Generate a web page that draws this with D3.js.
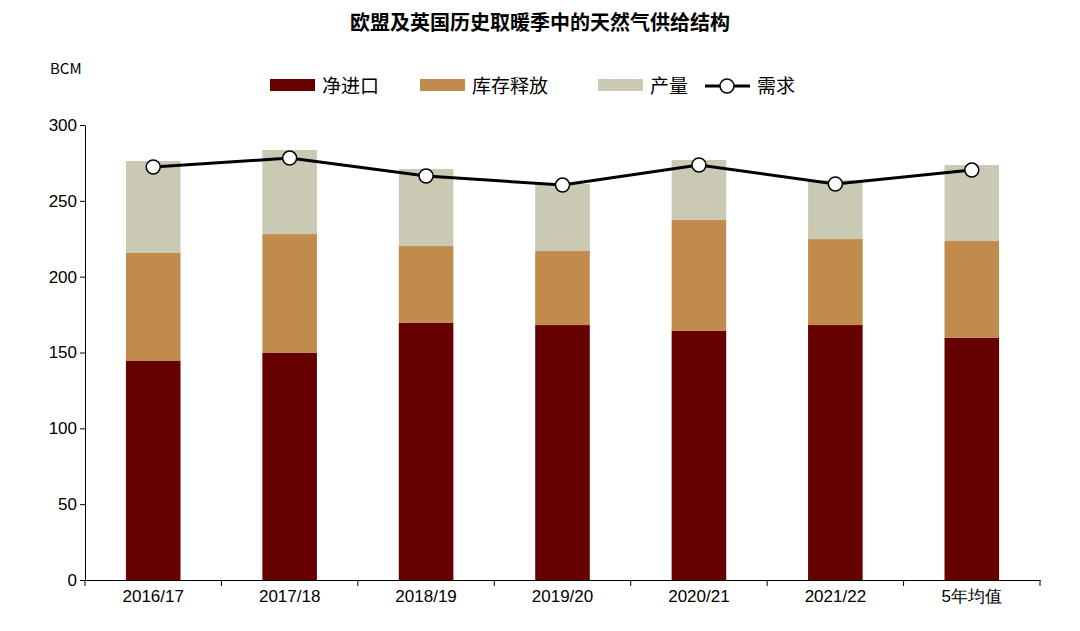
<!DOCTYPE html>
<html><head><meta charset="utf-8">
<script src="https://cdn.jsdelivr.net/npm/d3@7"></script>
<style>body{margin:0;background:#fff;font-family:"Noto Sans CJK SC","Liberation Sans",sans-serif}</style>
</head><body><svg id="c" width="1080" height="631"></svg>
<script>
var categories = ['2016/17','2017/18','2018/19','2019/20','2020/21','2021/22','5年均值'];
var netImports = [144.4,149.7,169.5,168.1,164.2,168.1,159.6];
var storage = [71.2,78.4,50.7,48.8,73.2,56.7,63.9];
var production = [60.7,55.4,50.8,44.2,39.5,38.9,50.1];
var demand = [272.3,278.2,266.4,260.4,273.6,261.1,270.3];
var yTicks = [0,50,100,150,200,250,300];
var seriesNames = ['净进口','库存释放','产量','需求'];
var colors = ['#660000','#c08b4c','#c9c9b4'];

var svg = d3.select('#c');
var x = d3.scaleBand().domain(categories).range([85,1040]).paddingInner(0.6).paddingOuter(0.3);
var y = d3.scaleLinear().domain([0,300]).range([580,125]);

svg.append('text').attr('x',540).attr('y',30).attr('text-anchor','middle')
  .style('font-size','20px').style('font-weight','bold').text('欧盟及英国历史取暖季中的天然气供给结构');
svg.append('text').attr('x',50).attr('y',74).style('font-size','15px').text('BCM');

var stacks = [netImports,storage,production];
stacks.forEach(function(s,k){
  svg.selectAll('.b'+k).data(categories).enter().append('rect')
    .attr('x',function(d){return x(d);})
    .attr('width',x.bandwidth())
    .attr('y',function(d,i){var b=0;for(var j=0;j<=k;j++)b+=stacks[j][i];return y(b);})
    .attr('height',function(d,i){return y(0)-y(s[i]);})
    .attr('fill',colors[k]);
});

var yAxis = svg.append('g').attr('transform','translate(85,0)')
  .call(d3.axisLeft(y).tickValues(yTicks).tickSize(5).tickSizeOuter(0));
yAxis.selectAll('text').style('font-size','17px').style('font-family','Liberation Sans').attr('fill','#000');
var xAxis = svg.append('g').attr('transform','translate(0,580)')
  .call(d3.axisBottom(x).tickSize(0).tickSizeOuter(0));
xAxis.selectAll('text').style('font-size','17px').attr('dy','1.1em').attr('fill','#000');
svg.selectAll('.domain').attr('stroke','#000');
svg.append('g').selectAll('line').data(d3.range(categories.length+1)).enter().append('line')
  .attr('x1',function(i){return 85+i*x.step();}).attr('x2',function(i){return 85+i*x.step();})
  .attr('y1',580).attr('y2',586).attr('stroke','#000');

var line = d3.line().x(function(d,i){return x(categories[i])+x.bandwidth()/2;}).y(function(d){return y(d);});
svg.append('path').datum(demand).attr('d',line).attr('fill','none').attr('stroke','#000').attr('stroke-width',3);
svg.selectAll('.pt').data(demand).enter().append('circle')
  .attr('cx',function(d,i){return x(categories[i])+x.bandwidth()/2;}).attr('cy',function(d){return y(d);})
  .attr('r',7).attr('fill','#fff').attr('stroke','#000').attr('stroke-width',1.5);

var lg = svg.append('g').attr('transform','translate(0,86)');
var lx = [270,420,598,705];
seriesNames.forEach(function(n,i){
  if(i<3) lg.append('rect').attr('x',lx[i]).attr('y',-7).attr('width',45).attr('height',12).attr('fill',colors[i]);
  else {
    lg.append('line').attr('x1',lx[i]).attr('x2',lx[i]+45).attr('y1',0).attr('y2',0).attr('stroke','#000').attr('stroke-width',3);
    lg.append('circle').attr('cx',lx[i]+22).attr('cy',0).attr('r',7).attr('fill','#fff').attr('stroke','#000').attr('stroke-width',1.5);
  }
  lg.append('text').attr('x',lx[i]+52).attr('y',7).style('font-size','19px').text(n);
});
</script></body></html>
